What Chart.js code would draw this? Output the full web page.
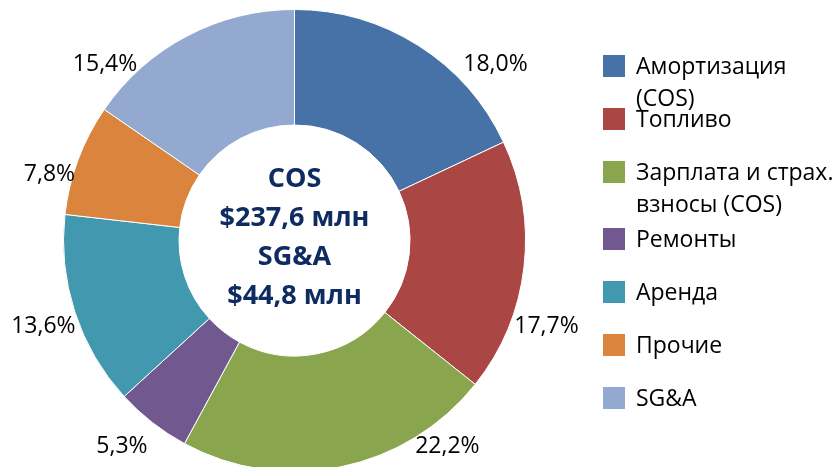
<!DOCTYPE html>
<html>
<head>
<meta charset="utf-8">
<script src="https://cdn.jsdelivr.net/npm/chart.js@4"></script>
<style>
  html, body { margin: 0; padding: 0; background: #fff; overflow: hidden; }
  #wrap { width: 834px; height: 467px; overflow: hidden; }
</style>
</head>
<body>
<div id="wrap"><canvas id="chart" width="834" height="476"></canvas></div>
<script>
// Данные диаграммы
const categories = [
  ['Амортизация', '(COS)'],
  ['Топливо'],
  ['Зарплата и страх.', 'взносы (COS)'],
  ['Ремонты'],
  ['Аренда'],
  ['Прочие'],
  ['SG&A']
];
const shares = [18.0, 17.7, 22.2, 5.3, 13.6, 7.8, 15.4];
const centerLines = ['COS', '$237,6 млн', 'SG&A', '$44,8 млн'];

const colors = ['#4672A8', '#AA4644', '#89A54E', '#71598F', '#4298AF', '#DB843D', '#93A9D0'];

// Положение подписей относительно центра, в долях внешнего радиуса
const labelAnchors = [
  [0.870, -0.764], [1.091, 0.370], [0.662, 0.892], [-0.747, 0.890],
  [-1.087, 0.372], [-1.061, -0.284], [-0.820, -0.760]
];
// Вертикальные позиции строк легенды
const legendRows = [66, 119, 172, 239, 292, 345, 398];

const fmt = v => v.toFixed(1).replace('.', ',') + '%';

const labelsPlugin = {
  id: 'sliceLabels',
  afterDatasetsDraw(chart) {
    const ctx = chart.ctx;
    const arc = chart.getDatasetMeta(0).data[0];
    const cx = arc.x, cy = arc.y, R = arc.outerRadius;
    ctx.save();
    ctx.fillStyle = '#000';
    ctx.font = '23px "Open Sans"';
    ctx.textAlign = 'center';
    ctx.textBaseline = 'middle';
    shares.forEach((v, i) => {
      const [ax, ay] = labelAnchors[i];
      ctx.fillText(fmt(v), cx + ax * R, cy + ay * R);
    });

    // Текст в центре
    ctx.fillStyle = '#0E2B62';
    ctx.font = 'bold 27px "Open Sans"';
    const step = 39;
    centerLines.forEach((t, i) => {
      ctx.fillText(t, cx, cy + (i - 1.5) * step - 3);
    });
    ctx.restore();
  }
};

const legendPlugin = {
  id: 'sideLegend',
  afterDraw(chart) {
    const ctx = chart.ctx;
    ctx.save();
    ctx.font = '23px "Open Sans"';
    ctx.textBaseline = 'middle';
    ctx.textAlign = 'left';
    categories.forEach((lines, i) => {
      const y = legendRows[i];
      ctx.fillStyle = colors[i];
      ctx.fillRect(603, y - 11, 22, 22);
      ctx.fillStyle = '#000';
      lines.forEach((t, j) => ctx.fillText(t, 636, y + 1 + j * 32));
    });
    ctx.restore();
  }
};

new Chart(document.getElementById('chart'), {
  type: 'doughnut',
  data: {
    labels: categories.map(c => c.join(' ')),
    datasets: [{
      data: shares,
      backgroundColor: colors,
      borderColor: '#ffffff',
      borderWidth: 1,
      hoverBorderWidth: 1,
      hoverOffset: 0
    }]
  },
  options: {
    responsive: false,
    animation: false,
    cutout: '50%',
    layout: { padding: { left: 63, right: 308, top: 9, bottom: 4 } },
    plugins: {
      legend: { display: false },
      tooltip: { enabled: false }
    }
  },
  plugins: [labelsPlugin, legendPlugin]
});
</script>
</body>
</html>
